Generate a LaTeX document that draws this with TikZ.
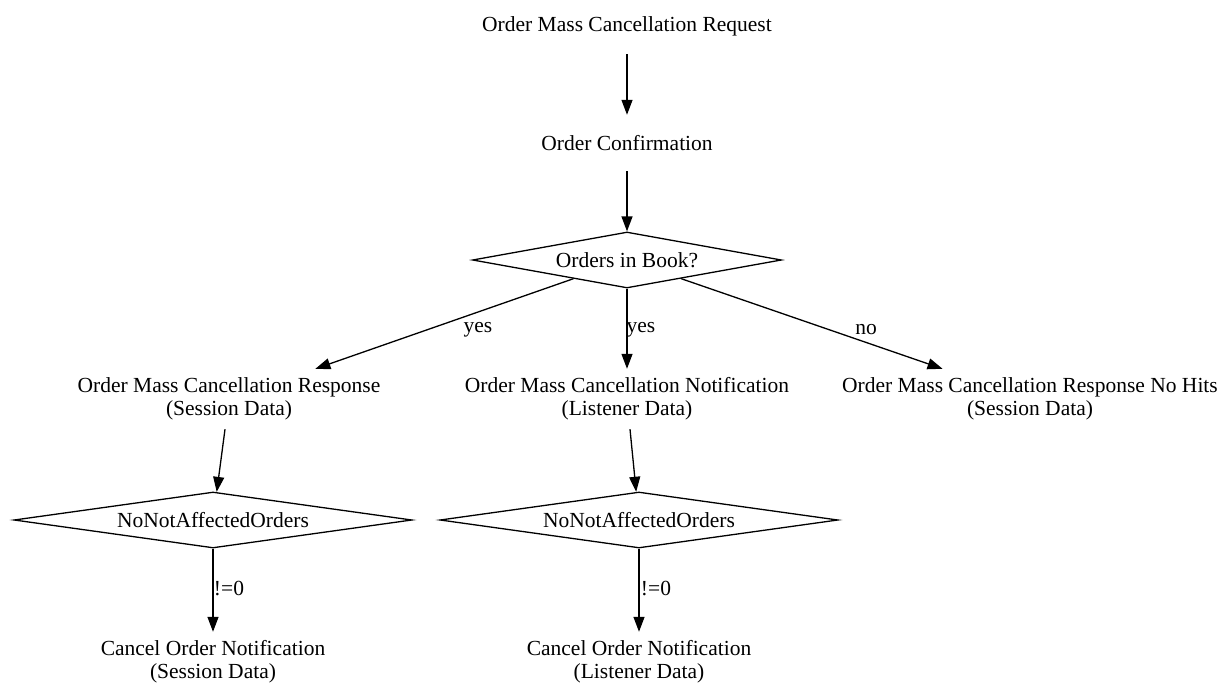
\documentclass[tikz,border=0pt]{standalone}
\usepackage{fontspec}
\setmainfont{Liberation Serif}
\usetikzlibrary{arrows.meta,shapes.geometric}
\begin{document}
\begin{tikzpicture}[x=1pt,y=-1pt,
  every node/.style={font=\fontsize{21.5}{23}\selectfont},
  txt/.style={align=center,inner sep=0pt,minimum height=56pt,minimum width=20pt},
  txttwo/.style={align=center,inner sep=0pt,minimum height=60pt,minimum width=20pt},
  dia/.style={shape=diamond,draw,line width=1.3pt,inner sep=0pt,aspect=7,minimum width=#1,minimum height=56pt},
  lbl/.style={inner sep=0pt},
  arr/.style={draw,line width=1.3pt,-{Triangle[length=15pt,width=11pt]}}]
\useasboundingbox (0,0) rectangle (1222,682);
\node[txt] (req) at (627,26) {Order Mass Cancellation Request};
\node[txt] (conf) at (627,143) {Order Confirmation};
\node[dia=309pt] (book) at (627,260) {Orders in Book?};
\node[txttwo] (resp) at (229,399) {Order Mass Cancellation Response\\(Session Data)};
\node[txttwo] (notif) at (627,399) {Order Mass Cancellation Notification\\(Listener Data)};
\node[txttwo] (nohits) at (1030,399) {Order Mass Cancellation Response No Hits\\(Session Data)};
\node[dia=398pt] (d1) at (213,520) {NoNotAffectedOrders};
\node[dia=398pt] (d2) at (639,520) {NoNotAffectedOrders};
\node[txttwo] (c1) at (213,662) {Cancel Order Notification\\(Session Data)};
\node[txttwo] (c2) at (639,662) {Cancel Order Notification\\(Listener Data)};
\draw[arr] (req) -- (conf);
\draw[arr] (conf) -- (book);
\draw[arr] (book) -- (resp);
\draw[arr] (book) -- (notif);
\draw[arr] (book) -- (nohits);
\draw[arr] (resp) -- (d1);
\draw[arr] (notif) -- (d2);
\draw[arr] (d1) -- (c1);
\draw[arr] (d2) -- (c2);
\node[lbl] (l1) at (478,330) {yes};
\node[lbl] (l2) at (641,330) {yes};
\node[lbl] (l3) at (866,330) {no};
\node[lbl] (l4) at (229,588) {!=0};
\node[lbl] (l5) at (656,588) {!=0};
\end{tikzpicture}
\end{document}
